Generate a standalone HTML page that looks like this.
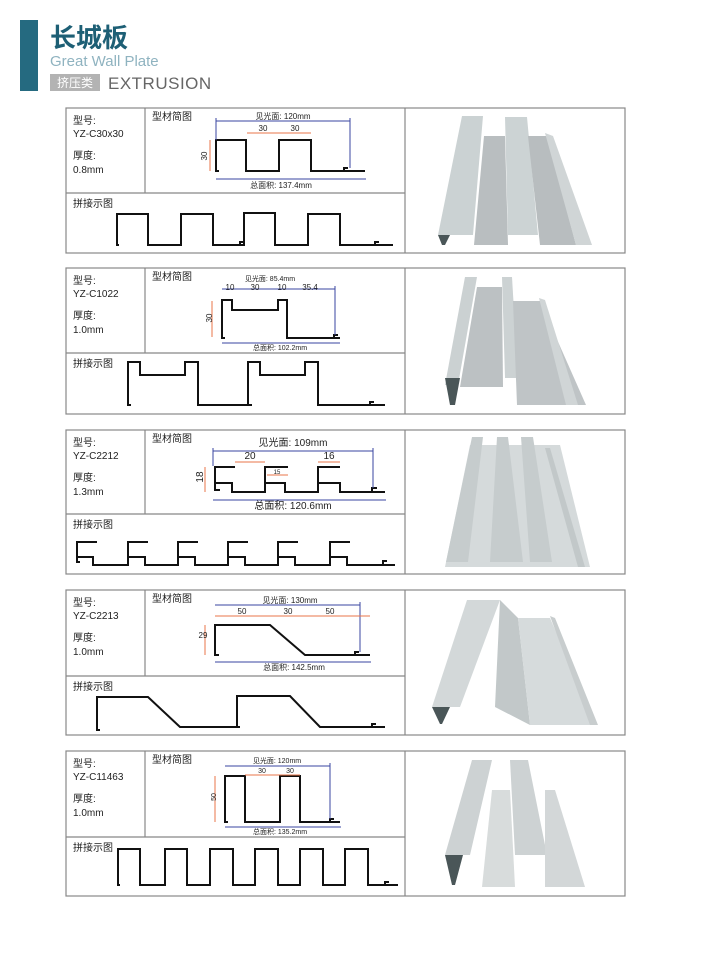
<!DOCTYPE html>
<html><head><meta charset="utf-8"><style>
html,body{margin:0;padding:0;background:#fff;width:710px;height:964px;overflow:hidden}
svg{display:block}
text{font-family:"Liberation Sans","Noto Sans CJK SC",sans-serif}
</style></head><body>
<svg width="710" height="964" viewBox="0 0 710 964" xmlns="http://www.w3.org/2000/svg">
<!-- header -->
<rect x="20" y="20" width="18" height="71" fill="#256a80"/>
<text x="50" y="47" font-size="26" font-weight="bold" fill="#1d5f75">长城板</text>
<text x="50" y="66" font-size="15" fill="#8fb3c0">Great Wall Plate</text>
<rect x="50" y="74" width="50" height="17" fill="#b3b3b3"/>
<text x="75" y="87" font-size="12" fill="#fff" text-anchor="middle">挤压类</text>
<text x="108" y="89" font-size="17" fill="#666" letter-spacing="0.5">EXTRUSION</text>

<g fill="none" stroke="#888" stroke-width="1.2">
<rect x="66" y="108" width="559" height="145"/><line x1="145" y1="108" x2="145" y2="193"/><line x1="66" y1="193" x2="405" y2="193"/><line x1="405" y1="108" x2="405" y2="253"/>
<rect x="66" y="268" width="559" height="146"/><line x1="145" y1="268" x2="145" y2="353"/><line x1="66" y1="353" x2="405" y2="353"/><line x1="405" y1="268" x2="405" y2="414"/>
<rect x="66" y="430" width="559" height="144"/><line x1="145" y1="430" x2="145" y2="514"/><line x1="66" y1="514" x2="405" y2="514"/><line x1="405" y1="430" x2="405" y2="574"/>
<rect x="66" y="590" width="559" height="145"/><line x1="145" y1="590" x2="145" y2="676"/><line x1="66" y1="676" x2="405" y2="676"/><line x1="405" y1="590" x2="405" y2="735"/>
<rect x="66" y="751" width="559" height="145"/><line x1="145" y1="751" x2="145" y2="837"/><line x1="66" y1="837" x2="405" y2="837"/><line x1="405" y1="751" x2="405" y2="896"/>
</g>

<g font-size="10" fill="#222">
<text x="73" y="124">型号:</text><text x="73" y="137">YZ-C30x30</text><text x="73" y="159">厚度:</text><text x="73" y="173">0.8mm</text>
<text x="152" y="120">型材简图</text><text x="73" y="207">拼接示图</text>
<text x="73" y="284">型号:</text><text x="73" y="297">YZ-C1022</text><text x="73" y="319">厚度:</text><text x="73" y="333">1.0mm</text>
<text x="152" y="280">型材简图</text><text x="73" y="367">拼接示图</text>
<text x="73" y="446">型号:</text><text x="73" y="459">YZ-C2212</text><text x="73" y="481">厚度:</text><text x="73" y="495">1.3mm</text>
<text x="152" y="442">型材简图</text><text x="73" y="528">拼接示图</text>
<text x="73" y="606">型号:</text><text x="73" y="619">YZ-C2213</text><text x="73" y="641">厚度:</text><text x="73" y="655">1.0mm</text>
<text x="152" y="602">型材简图</text><text x="73" y="690">拼接示图</text>
<text x="73" y="767">型号:</text><text x="73" y="780">YZ-C11463</text><text x="73" y="802">厚度:</text><text x="73" y="816">1.0mm</text>
<text x="152" y="763">型材简图</text><text x="73" y="851">拼接示图</text>
</g>

<!-- profiles -->
<g fill="none" stroke="#111" stroke-width="2">
<polyline points="219,171 216,171 216,140 246,140 246,171 279,171 279,140 311,140 311,171 365,171"/>
<polyline points="344,171 344,168 348,168"/>
<polyline points="119,245 117,245 117,214 148,214 148,245 181,245 181,214 213,214 213,245 245,245"/>
<polyline points="245,244 244,244 244,213 275,213 275,245 308,245 308,214 340,214 340,245 393,245"/>
<polyline points="240,245 240,242 244,242"/><polyline points="375,245 375,242 379,242"/>

<polyline points="225,338 222,338 222,300 232,300 232,310 278,310 278,300 287,300 287,338 340,338"/>
<polyline points="334,338 334,335 338,335"/>
<polyline points="131,405 128,405 128,362 140,362 140,375 185,375 185,362 198,362 198,405 252,405"/>
<polyline points="248,405 248,362 260,362 260,375 305,375 305,362 318,362 318,405 385,405"/>
<polyline points="370,405 370,402 374,402"/>

<polyline points="220,490 215,490 215,467 235,467"/>
<polyline points="215,483 232,483 232,492 265,492 265,467 288,467"/>
<polyline points="265,483 285,483 285,492 318,492 318,467 340,467"/>
<polyline points="318,483 340,483 340,492 385,492"/><polyline points="372,492 372,488 377,488"/>

<polyline points="80,562 77,562 77,542 97,542"/>
<polyline points="77,557 93,557 93,565 128,565 128,542 148,542"/>
<polyline points="128,557 145,557 145,565 178,565 178,542 198,542"/>
<polyline points="178,557 195,557 195,565 228,565 228,542 248,542"/>
<polyline points="228,557 245,557 245,565 278,565 278,542 298,542"/>
<polyline points="278,557 295,557 295,565 330,565 330,542 350,542"/>
<polyline points="330,557 347,557 347,565 395,565"/><polyline points="383,565 383,561 387,561"/>

<polyline points="219,655 215,655 215,625 270,625 305,655 370,655"/><polyline points="355,655 355,652 359,652"/>
<polyline points="100,730 97,730 97,697 148,697 180,727 240,727"/>
<polyline points="237,727 237,696 290,696 320,727 385,727"/><polyline points="372,727 372,724 376,724"/>

<polyline points="228,822 225,822 225,776 245,776 245,822 280,822 280,776 300,776 300,822 340,822"/><polyline points="330,822 330,819 334,819"/>
<polyline points="120,885 118,885 118,849 140,849 140,885 165,885 165,849 187,849 187,885 210,885 210,849 233,849 233,885 255,885 255,849 278,849 278,885 300,885 300,849 323,849 323,885 345,885 345,849 368,849 368,885 398,885"/>
<polyline points="385,885 385,882 389,882"/>
</g>

<!-- dimension lines -->
<g stroke="#3a46a0" stroke-width="1" fill="none">
<line x1="216" y1="121" x2="350" y2="121"/><line x1="216" y1="118" x2="216" y2="140"/><line x1="350" y1="118" x2="350" y2="168"/>
<line x1="216" y1="179" x2="366" y2="179"/>
<line x1="222" y1="289" x2="335" y2="289"/><line x1="335" y1="286" x2="335" y2="335"/><line x1="222" y1="343" x2="340" y2="343"/>
<line x1="213" y1="451" x2="373" y2="451"/><line x1="213" y1="448" x2="213" y2="466"/><line x1="373" y1="448" x2="373" y2="488"/><line x1="213" y1="500" x2="386" y2="500"/>
<line x1="215" y1="605" x2="360" y2="605"/><line x1="360" y1="602" x2="360" y2="652"/><line x1="215" y1="662" x2="371" y2="662"/>
<line x1="225" y1="766" x2="330" y2="766"/><line x1="330" y1="763" x2="330" y2="819"/><line x1="225" y1="827" x2="341" y2="827"/>
</g>
<g stroke="#e8764a" stroke-width="1" fill="none">
<line x1="247" y1="133" x2="311" y2="133"/><line x1="210" y1="140" x2="210" y2="171"/>
<line x1="212" y1="301" x2="212" y2="337"/>
<line x1="235" y1="462" x2="265" y2="462"/><line x1="318" y1="462" x2="340" y2="462"/><line x1="267" y1="475" x2="288" y2="475"/><line x1="205" y1="467" x2="205" y2="492"/>
<line x1="215" y1="616" x2="370" y2="616"/><line x1="205" y1="625" x2="205" y2="655"/>
<line x1="245" y1="775" x2="300" y2="775"/><line x1="215" y1="776" x2="215" y2="822"/>
</g>
<g font-size="8" fill="#222" text-anchor="middle">
<text x="283" y="119">见光面: 120mm</text><text x="263" y="131">30</text><text x="295" y="131">30</text><text x="281" y="188">总面积: 137.4mm</text>
<text x="205" y="158" transform="rotate(-90 205 156)">30</text>
<text x="270" y="281" font-size="7">见光面: 85.4mm</text><text x="230" y="290">10</text><text x="255" y="290">30</text><text x="282" y="290">10</text><text x="310" y="290">35.4</text><text x="280" y="350" font-size="7">总面积: 102.2mm</text>
<text x="210" y="320" transform="rotate(-90 210 318)">30</text>
<text x="293" y="446" font-size="10">见光面: 109mm</text><text x="250" y="459" font-size="10">20</text><text x="329" y="459" font-size="10">16</text><text x="277" y="474" font-size="6">15</text><text x="293" y="509" font-size="10">总面积: 120.6mm</text>
<text x="203" y="481" font-size="10" transform="rotate(-90 201 479)">18</text>
<text x="290" y="603">见光面: 130mm</text><text x="242" y="614">50</text><text x="288" y="614">30</text><text x="330" y="614">50</text><text x="294" y="670">总面积: 142.5mm</text>
<text x="203" y="638">29</text>
<text x="277" y="763" font-size="7">见光面: 120mm</text><text x="262" y="773" font-size="7">30</text><text x="290" y="773" font-size="7">30</text><text x="280" y="834" font-size="7">总面积: 135.2mm</text>
<text x="216" y="801" font-size="7" transform="rotate(-90 214 799)">50</text>
</g>

<!-- photos -->
<g stroke="none">
<polygon points="462,116 483,116 473,235 438,235" fill="#cbd2d3"/>
<polygon points="484,136 505,136 508,245 474,245" fill="#b9bec0"/>
<polygon points="505,117 527,117 538,235 508,235" fill="#ccd3d4"/>
<polygon points="528,136 547,136 576,245 540,245" fill="#b8bdbf"/>
<polygon points="545,133 553,136 592,245 576,245" fill="#d0d5d6"/>
<polygon points="438,235 450,235 445,245 442,245" fill="#4a5658"/>

<polygon points="465,277 477,277 458,385 445,385" fill="#cbd1d2"/>
<polygon points="477,287 502,287 503,387 460,387" fill="#bcc1c3"/>
<polygon points="502,277 512,277 518,378 505,378" fill="#ccd2d3"/>
<polygon points="513,301 540,301 586,405 517,405" fill="#bfc4c6"/>
<polygon points="539,298 545,300 578,405 566,405" fill="#d0d5d6"/>
<polygon points="445,378 460,378 455,405 450,405" fill="#4a5658"/>

<polygon points="470,445 560,445 590,567 445,567" fill="#d5dadb"/>
<polygon points="472,437 483,437 468,562 446,562" fill="#c6cccd"/>
<polygon points="497,437 508,437 523,562 490,562" fill="#c6cccd"/>
<polygon points="521,437 533,437 552,562 530,562" fill="#c6cccd"/>
<polygon points="545,448 550,448 585,567 578,567" fill="#c2c8c9"/>

<polygon points="467,600 500,600 460,707 432,707" fill="#d3d8d9"/>
<polygon points="500,600 518,618 530,725 495,707" fill="#c2c8c9"/>
<polygon points="518,618 550,618 596,725 530,725" fill="#d6dbdc"/>
<polygon points="550,616 555,618 598,725 590,725" fill="#c8cdce"/>
<polygon points="432,707 450,707 442,724 440,724" fill="#4a5658"/>

<polygon points="472,760 492,760 470,855 445,855" fill="#cdd2d3"/>
<polygon points="492,790 510,790 515,887 482,887" fill="#d8dcdc"/>
<polygon points="510,760 528,760 547,855 515,855" fill="#cdd2d3"/>
<polygon points="545,790 555,790 585,887 545,887" fill="#d3d7d8"/>
<polygon points="445,855 463,855 455,885 452,885" fill="#4a5658"/>
</g>
</svg>
</body></html>
